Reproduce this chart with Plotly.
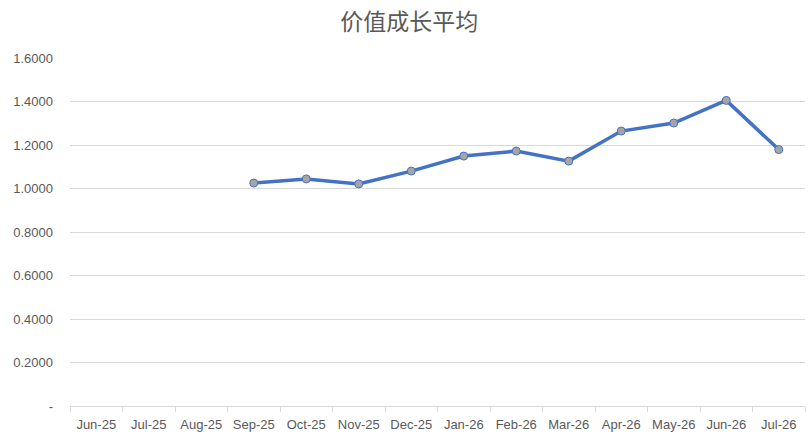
import plotly.graph_objects as go

categories = ["Jun-25", "Jul-25", "Aug-25", "Sep-25", "Oct-25", "Nov-25", "Dec-25",
              "Jan-26", "Feb-26", "Mar-26", "Apr-26", "May-26", "Jun-26", "Jul-26"]
values = [None, None, None, 1.025, 1.044, 1.021, 1.080, 1.149, 1.172, 1.126,
          1.264, 1.301, 1.405, 1.179]
y_tickvals = [0, 0.2, 0.4, 0.6, 0.8, 1.0, 1.2, 1.4, 1.6]
y_ticktext = ["-", "0.2000", "0.4000", "0.6000", "0.8000", "1.0000", "1.2000", "1.4000", "1.6000"]

fig = go.Figure()
fig.add_trace(go.Scatter(
    x=categories, y=values, mode="lines+markers",
    line=dict(color="#4472C4", width=3.5),
    marker=dict(size=8, color="#A5A5A5", line=dict(color="#4472C4", width=1)),
    connectgaps=False, showlegend=False,
))

fig.update_layout(
    width=812, height=434,
    margin=dict(l=70, r=7, t=58, b=28, autoexpand=False),
    paper_bgcolor="white", plot_bgcolor="white",
    title=dict(text="价值成长平均", x=0.504, xanchor="center", yref="container",
               y=1 - 22 / 434, yanchor="middle",
               font=dict(family="Noto Sans CJK SC", size=23, color="#595959")),
    font=dict(family="Liberation Sans", size=13, color="#595959"),
)
fig.update_xaxes(
    type="category", categoryorder="array", categoryarray=categories,
    range=[-0.5, len(categories) - 0.5], automargin=False,
    showgrid=False, showline=True, linecolor="#D9D9D9", linewidth=1,
    ticks="outside", tickson="boundaries", ticklen=5, tickcolor="#D9D9D9",
    ticklabelstandoff=6,
    tickfont=dict(family="Liberation Sans", size=13, color="#595959"),
)
fig.update_yaxes(
    range=[0, 1.6], tickvals=y_tickvals, ticktext=y_ticktext, automargin=False,
    showgrid=True, gridcolor="#D9D9D9", gridwidth=1,
    zeroline=False, showline=False, ticks="",
    ticklabelstandoff=16,
    tickfont=dict(family="Liberation Sans", size=13, color="#595959"),
)

fig.write_html("out.html", config={"displayModeBar": False},
               post_script="document.body.style.margin='0';document.body.style.overflow='hidden';")
